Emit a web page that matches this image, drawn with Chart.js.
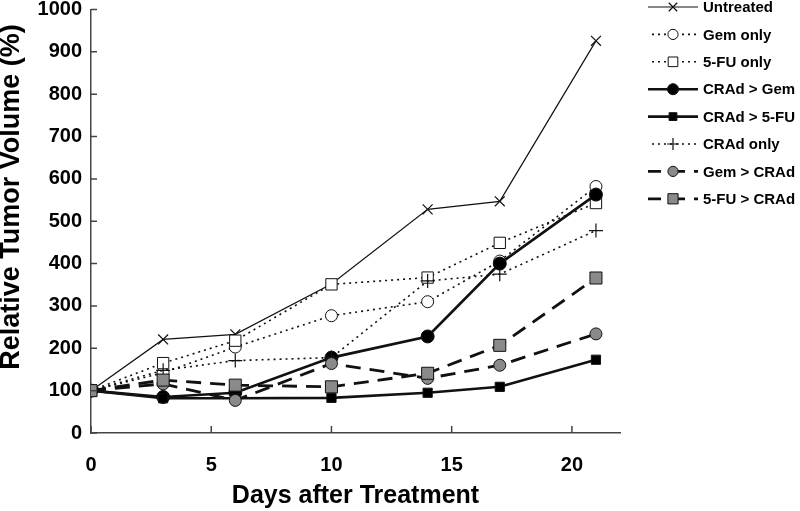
<!DOCTYPE html>
<html>
<head>
<meta charset="utf-8">
<script src="https://cdn.jsdelivr.net/npm/chart.js@4/dist/chart.umd.min.js"></script>
<style>
  html, body { margin: 0; padding: 0; background: #fff; }
  #wrap { width: 800px; height: 511px; }
</style>
</head>
<body>
<div id="wrap"><canvas id="chart" width="800" height="511"></canvas></div>
<script>
'use strict';

// days after treatment
const days = [0, 3, 6, 10, 14, 17, 21];

// relative tumor volume (%)
const untreated = [100, 221, 233, 352, 528, 547, 926];
const gemOnly   = [100, 142, 203, 277, 310, 406, 582];
const fuOnly    = [100, 165, 218, 351, 367, 449, 543];
const cradGem   = [100, 85, 95, 178, 228, 400, 563];
const cradFu    = [100, 82, 82, 83, 95, 109, 173];
const cradOnly  = [100, 148, 171, 178, 359, 375, 478];
const gemCrad   = [100, 116, 77, 164, 129, 160, 234];
const fuCrad    = [100, 125, 113, 109, 141, 207, 366];

const labels = ['Untreated', 'Gem only', '5-FU only', 'CRAd > Gem', 'CRAd > 5-FU', 'CRAd only', 'Gem > CRAd', '5-FU > CRAd'];
const xTicks = [0, 5, 10, 15, 20];
const yTicks = [0, 100, 200, 300, 400, 500, 600, 700, 800, 900, 1000];

const FONT = '"Liberation Sans", Arial, sans-serif';
const GRAY = '#8a8a8a';
const DOT = [2, 4];
const DASH = [15, 9];

const pts = vals => days.map((d, i) => ({ x: d, y: vals[i] }));

const styles = [
  { data: untreated, width: 1.2, dash: [],   style: 'crossRot', r: 7,   fill: '#000' },
  { data: gemOnly,   width: 1.6, dash: DOT,  style: 'circle',   r: 6,   fill: '#fff' },
  { data: fuOnly,    width: 1.6, dash: DOT,  style: 'rect',     r: 8,   fill: '#fff' },
  { data: cradGem,   width: 2.6, dash: [],   style: 'circle',   r: 6.5, fill: '#000' },
  { data: cradFu,    width: 2.6, dash: [],   style: 'rect',     r: 6.5, fill: '#000' },
  { data: cradOnly,  width: 1.6, dash: DOT,  style: 'cross',    r: 7,   fill: '#000' },
  { data: gemCrad,   width: 2.8, dash: DASH, style: 'circle',   r: 6,   fill: GRAY },
  { data: fuCrad,    width: 2.8, dash: DASH, style: 'rect',     r: 8.5, fill: GRAY }
];

// later series are painted on top, as in the original
const datasets = styles.map((s, i) => ({
  label: labels[i],
  data: pts(s.data),
  order: styles.length - i,
  borderColor: '#111',
  borderWidth: s.width,
  borderDash: s.dash,
  pointStyle: s.style,
  pointRadius: s.r,
  pointBackgroundColor: s.fill,
  pointBorderColor: '#111',
  pointBorderWidth: s.style === 'crossRot' || s.style === 'cross' ? 1.2 : 1,
  tension: 0,
  fill: false
}));

// inward tick marks, rotated y title, and the line-sample legend
const decor = {
  id: 'decor',
  afterDraw(chart) {
    const ctx = chart.ctx;
    const xs = chart.scales.x, ys = chart.scales.y;
    const area = chart.chartArea;
    ctx.save();
    ctx.strokeStyle = '#444';
    ctx.lineWidth = 1.5;
    ctx.beginPath();
    xTicks.forEach(v => {
      const px = xs.getPixelForValue(v);
      ctx.moveTo(px, area.bottom);
      ctx.lineTo(px, area.bottom - 7);
    });
    yTicks.forEach(v => {
      const py = ys.getPixelForValue(v);
      ctx.moveTo(area.left, py);
      ctx.lineTo(area.left + 6, py);
    });
    ctx.stroke();

    // y axis title
    ctx.fillStyle = '#000';
    ctx.font = 'bold 27px ' + FONT;
    ctx.textAlign = 'center';
    ctx.textBaseline = 'middle';
    ctx.translate(12, 197);
    ctx.rotate(-Math.PI / 2);
    ctx.fillText('Relative Tumor Volume (%)', 0, 0);
    ctx.restore();

    // legend
    ctx.save();
    const x0 = 648, x1 = 698, y0 = 7, step = 27.4;
    chart.data.datasets.forEach((ds, i) => {
      const y = y0 + i * step;
      ctx.strokeStyle = '#111';
      ctx.lineWidth = ds.borderWidth;
      ctx.setLineDash(ds.borderDash);
      ctx.lineDashOffset = ds.borderDash.length ? 2 : 0;
      ctx.beginPath();
      ctx.moveTo(x0, y);
      ctx.lineTo(x1, y);
      ctx.stroke();
      ctx.setLineDash([]);
      ctx.fillStyle = ds.pointBackgroundColor;
      ctx.strokeStyle = ds.pointBorderColor;
      ctx.lineWidth = ds.pointBorderWidth;
      Chart.helpers.drawPoint(ctx, {
        pointStyle: ds.pointStyle,
        radius: ds.pointRadius * 0.85,
        borderWidth: ds.pointBorderWidth,
        rotation: 0
      }, (x0 + x1) / 2, y);
      ctx.fillStyle = '#000';
      ctx.font = 'bold 15px ' + FONT;
      ctx.textAlign = 'left';
      ctx.textBaseline = 'middle';
      ctx.fillText(ds.label, 703, y + 1);
    });
    ctx.restore();
  }
};

new Chart(document.getElementById('chart'), {
  type: 'line',
  data: { datasets },
  options: {
    responsive: false,
    animation: false,
    layout: { padding: { left: 0, right: 180, top: 7, bottom: 0 } },
    plugins: {
      legend: { display: false },
      tooltip: { enabled: false }
    },
    scales: {
      x: {
        type: 'linear',
        min: 0,
        max: 22,
        afterFit: s => { s.height = 78; s.paddingLeft = 0; s.paddingRight = 0; },
        afterBuildTicks: s => { s.ticks = xTicks.map(v => ({ value: v })); },
        grid: { display: true, drawOnChartArea: false, drawTicks: false },
        border: { display: true, color: '#444', width: 1.5 },
        ticks: {
          padding: 20,
          color: '#000',
          callback: v => String(v),
          font: { family: FONT, size: 20, weight: 'bold' }
        },
        title: {
          display: true,
          text: 'Days after Treatment',
          color: '#000',
          padding: { top: 8, bottom: 0 },
          font: { family: FONT, size: 25, weight: 'bold' }
        }
      },
      y: {
        min: 0,
        max: 1000,
        afterFit: s => { s.width = 91; s.paddingTop = 0; s.paddingBottom = 0; },
        afterBuildTicks: s => { s.ticks = yTicks.map(v => ({ value: v })); },
        grid: { display: true, drawOnChartArea: false, drawTicks: false },
        border: { display: true, color: '#444', width: 1.5 },
        ticks: {
          padding: 9,
          color: '#000',
          callback: v => String(v),
          font: { family: FONT, size: 20, weight: 'bold' }
        }
      }
    }
  },
  plugins: [decor]
});
</script>
</body>
</html>
